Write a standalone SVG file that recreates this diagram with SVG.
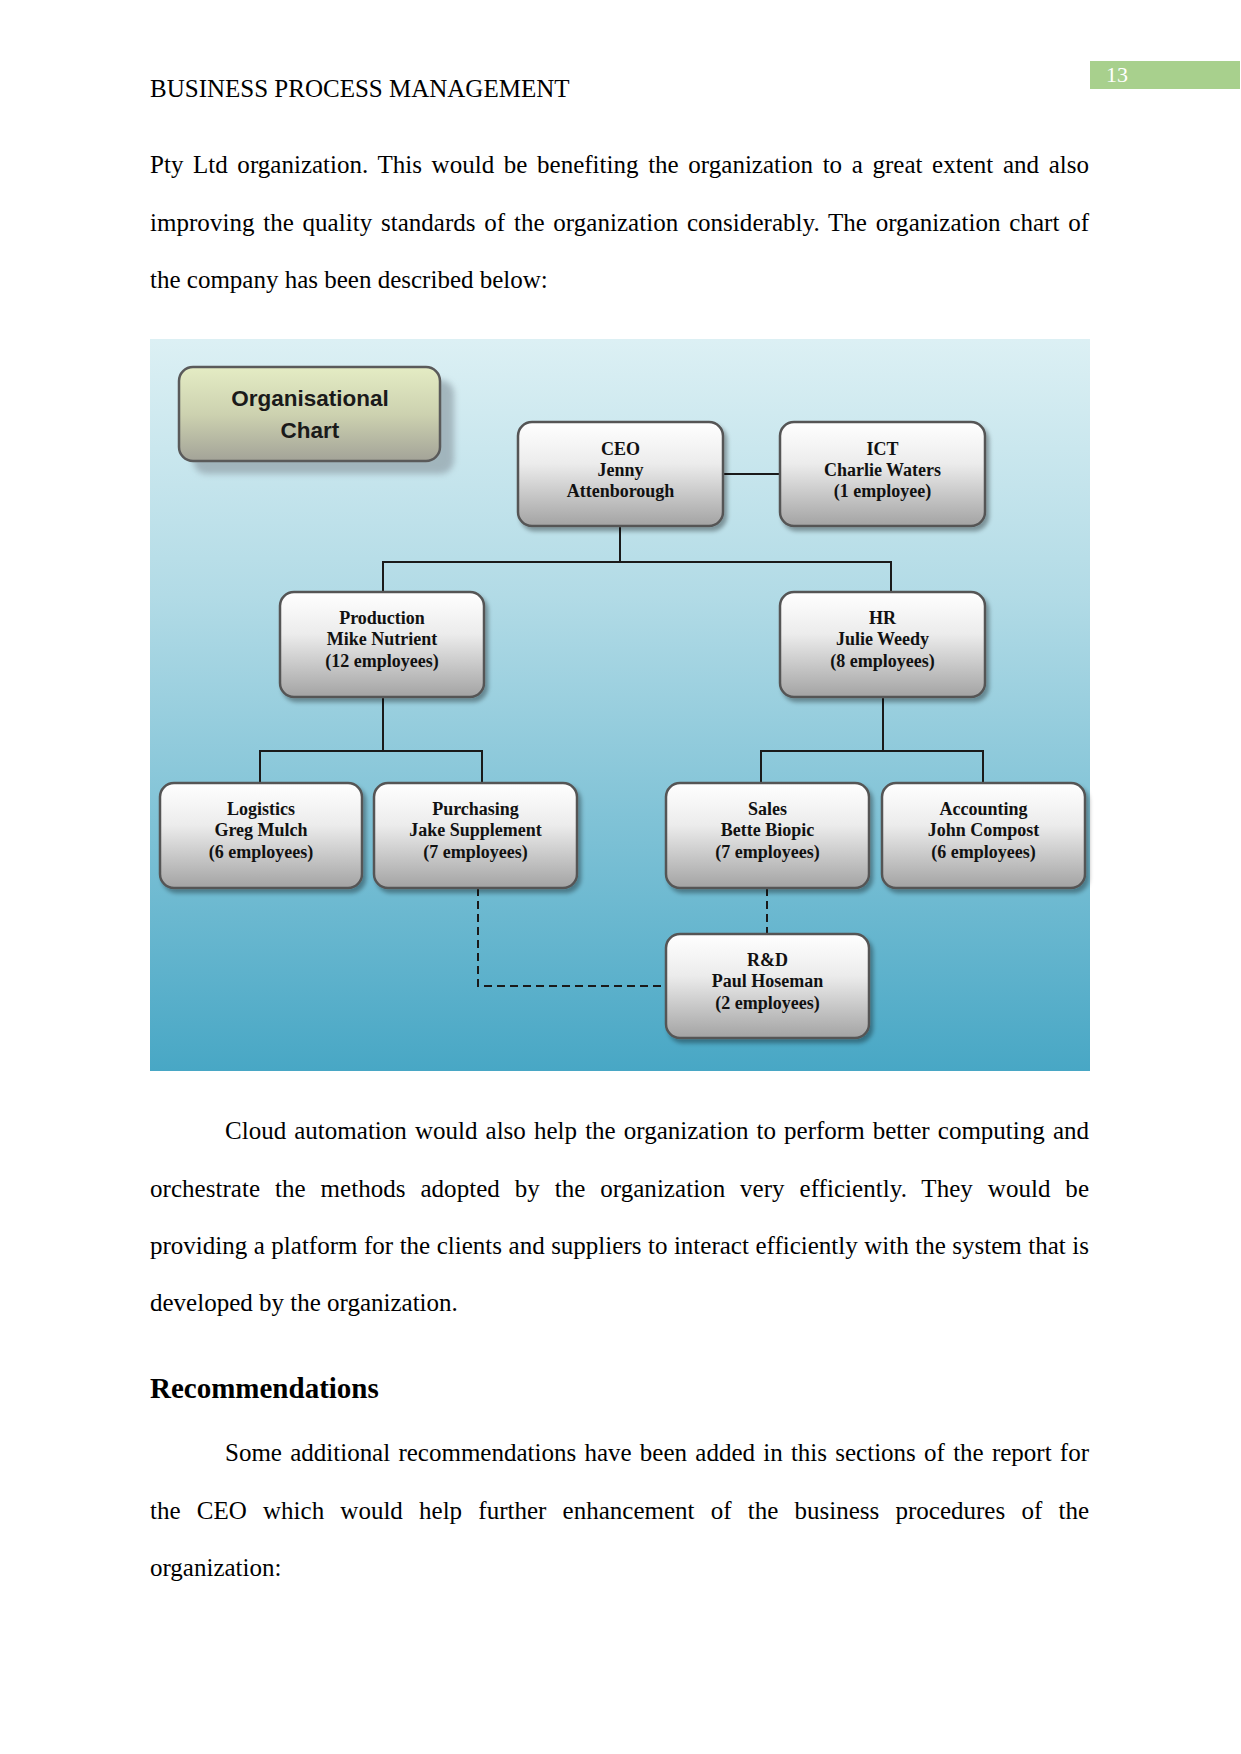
<svg xmlns="http://www.w3.org/2000/svg" width="1241" height="1754" viewBox="0 0 1241 1754">
<defs>
<linearGradient id="bg" x1="0" y1="0" x2="0" y2="1">
<stop offset="0" stop-color="#dcf0f4"/>
<stop offset="0.35" stop-color="#b2dbe6"/>
<stop offset="1" stop-color="#48a7c5"/>
</linearGradient>
<linearGradient id="nodeFill" x1="0" y1="0" x2="0" y2="1">
<stop offset="0" stop-color="#ffffff"/>
<stop offset="0.4" stop-color="#ececec"/>
<stop offset="1" stop-color="#a3a3a3"/>
</linearGradient>
<linearGradient id="titleFill" x1="0" y1="0" x2="0" y2="1">
<stop offset="0" stop-color="#e4ecc4"/>
<stop offset="0.5" stop-color="#cdd2b0"/>
<stop offset="1" stop-color="#a3a398"/>
</linearGradient>
<filter id="shadow" x="-10%" y="-10%" width="125%" height="130%">
<feDropShadow dx="3" dy="4" stdDeviation="2" flood-color="#000" flood-opacity="0.35"/>
</filter>
<filter id="blur" x="-10%" y="-10%" width="120%" height="130%">
<feGaussianBlur stdDeviation="3"/>
</filter>
</defs>
<style>
.body{font-family:"Liberation Serif","Times New Roman",serif;font-size:25px;fill:#000}
.node rect{fill:url(#nodeFill);stroke:#555;stroke-width:2.5;filter:url(#shadow)}
.node text{font-family:"Liberation Serif","Times New Roman",serif;font-weight:bold;font-size:18px;fill:#111;text-anchor:middle}
.conn{stroke:#1a1a1a;stroke-width:2;fill:none}
.dash{stroke:#1a1a1a;stroke-width:2;fill:none;stroke-dasharray:8 5}
</style>
<rect width="1241" height="1754" fill="#fff"/>
<text class="body" x="150" y="97">BUSINESS PROCESS MANAGEMENT</text>
<rect x="1090" y="61" width="150" height="28" fill="#a8d08d"/>
<text x="1106" y="82" font-family="Liberation Serif, serif" font-size="22" fill="#fff">13</text>

<text class="body" x="150" y="173" word-spacing="3.34" textLength="939" lengthAdjust="spacing">Pty Ltd organization. This would be benefiting the organization to a great extent and also</text>
<text class="body" x="150" y="230.5" word-spacing="2.42" textLength="939" lengthAdjust="spacing">improving the quality standards of the organization considerably. The organization chart of</text>
<text class="body" x="150" y="287.5">the company has been described below:</text>

<g id="chart">
<rect x="150" y="339" width="940" height="732" fill="url(#bg)"/>
<g id="title">
<rect x="193" y="380" width="261" height="94" rx="14" fill="#98a9b1" filter="url(#blur)" opacity="0.8"/>
<rect x="179" y="367" width="261" height="94" rx="14" fill="url(#titleFill)" stroke="#5a5a5a" stroke-width="2.5"/>
<text x="310" y="406" text-anchor="middle" font-family="Liberation Sans, Arial, sans-serif" font-weight="bold" font-size="22.5" fill="#1a1a1a">Organisational</text>
<text x="310" y="438" text-anchor="middle" font-family="Liberation Sans, Arial, sans-serif" font-weight="bold" font-size="22.5" fill="#1a1a1a">Chart</text>
</g>

<g id="connectors">
<path class="conn" d="M723 474H780"/>
<path class="conn" d="M620 526V562M383 592V562H891V592"/>
<path class="conn" d="M383 697V751M260 783V751H482V783"/>
<path class="conn" d="M883 697V751M761 783V751H983V783"/>
<path class="dash" d="M478 888V986H666"/>
<path class="dash" d="M767 888V934"/>
</g>

<g id="ceo" class="node">
<rect x="518" y="422" width="205" height="104" rx="14"/>
<text x="620.5" y="455">CEO</text>
<text x="620.5" y="476">Jenny</text>
<text x="620.5" y="497">Attenborough</text>
</g>
<g id="ict" class="node">
<rect x="780" y="422" width="205" height="104" rx="14"/>
<text x="882.5" y="455">ICT</text>
<text x="882.5" y="476">Charlie Waters</text>
<text x="882.5" y="497">(1 employee)</text>
</g>
<g id="production" class="node">
<rect x="280" y="592" width="204" height="105" rx="14"/>
<text x="382" y="624">Production</text>
<text x="382" y="645">Mike Nutrient</text>
<text x="382" y="667">(12 employees)</text>
</g>
<g id="hr" class="node">
<rect x="780" y="592" width="205" height="105" rx="14"/>
<text x="882.5" y="624">HR</text>
<text x="882.5" y="645">Julie Weedy</text>
<text x="882.5" y="667">(8 employees)</text>
</g>
<g id="logistics" class="node">
<rect x="160" y="783" width="202" height="105" rx="14"/>
<text x="261" y="815">Logistics</text>
<text x="261" y="836">Greg Mulch</text>
<text x="261" y="858">(6 employees)</text>
</g>
<g id="purchasing" class="node">
<rect x="374" y="783" width="203" height="105" rx="14"/>
<text x="475.5" y="815">Purchasing</text>
<text x="475.5" y="836">Jake Supplement</text>
<text x="475.5" y="858">(7 employees)</text>
</g>
<g id="sales" class="node">
<rect x="666" y="783" width="203" height="105" rx="14"/>
<text x="767.5" y="815">Sales</text>
<text x="767.5" y="836">Bette Biopic</text>
<text x="767.5" y="858">(7 employees)</text>
</g>
<g id="accounting" class="node">
<rect x="882" y="783" width="203" height="105" rx="14"/>
<text x="983.5" y="815">Accounting</text>
<text x="983.5" y="836">John Compost</text>
<text x="983.5" y="858">(6 employees)</text>
</g>
<g id="rnd" class="node">
<rect x="666" y="934" width="203" height="104" rx="14"/>
<text x="767.5" y="966">R&amp;D</text>
<text x="767.5" y="987">Paul Hoseman</text>
<text x="767.5" y="1009">(2 employees)</text>
</g>
</g>

<text class="body" x="225" y="1139" word-spacing="1.85" textLength="864" lengthAdjust="spacing">Cloud automation would also help the organization to perform better computing and</text>
<text class="body" x="150" y="1196.5" word-spacing="8.6" textLength="939" lengthAdjust="spacing">orchestrate the methods adopted by the organization very efficiently. They would be</text>
<text class="body" x="150" y="1253.5" word-spacing="0.24" textLength="939" lengthAdjust="spacing">providing a platform for the clients and suppliers to interact efficiently with the system that is</text>
<text class="body" x="150" y="1311">developed by the organization.</text>

<text x="150" y="1398" font-family="Liberation Serif, Times New Roman, serif" font-weight="bold" font-size="29" fill="#000">Recommendations</text>

<text class="body" x="225" y="1461" word-spacing="1.99" textLength="864" lengthAdjust="spacing">Some additional recommendations have been added in this sections of the report for</text>
<text class="body" x="150" y="1518.5" word-spacing="9.98" textLength="939" lengthAdjust="spacing">the CEO which would help further enhancement of the business procedures of the</text>
<text class="body" x="150" y="1576">organization:</text>
</svg>
